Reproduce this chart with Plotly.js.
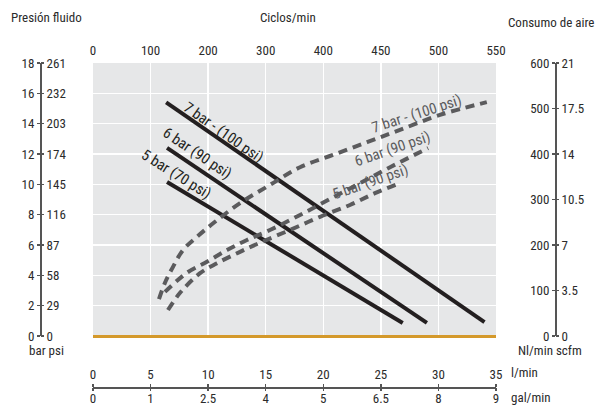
<!DOCTYPE html>
<html>
<head>
<meta charset="utf-8">
<script src="https://cdn.plot.ly/plotly-3.0.1.min.js"></script>
<style>html,body{margin:0;padding:0;background:#fff;}#chart{width:596px;height:405px;}</style>
</head>
<body>
<div id="chart"></div>
<script>
// ---- data ----
// Solid lines: flow (l/min) vs fluid pressure (bar)
const solid7X = [6.35, 34.0];
const solid7Y = [15.4, 0.92];
const solid6X = [6.43, 29.0];
const solid6Y = [12.4, 0.86];
const solid5X = [6.43, 26.9];
const solid5Y = [10.15, 0.86];
// Dashed curves: air consumption (Nl/min)
const dash7X = [5.73, 6.25, 6.95, 7.82, 9.03, 10.6, 12.77, 15.37, 17.98, 20.84, 23.8, 26.66, 30.14, 34.2];
const dash7Y = [81, 117, 152, 189, 218, 251, 292, 332, 371, 398, 426, 453, 486, 514];
const dash6X = [6.25, 8.16, 9.9, 11.64, 13.37, 15.37, 17.98, 20.58, 23.19, 25.8, 29.1];
const dash6Y = [97, 139, 163, 189, 211, 233, 266, 301, 336, 371, 413];
const dash5X = [6.51, 7.56, 9.3, 10.77, 12.77, 14.68, 17.11, 19.72, 22.32, 24.49, 26.66];
const dash5Y = [57, 95, 138, 160, 185, 207, 233, 262, 288, 314, 336];

// tick labels
const flowTicks = [0, 5, 10, 15, 20, 25, 30, 35];
const cycleLabels = ["0", "100", "200", "300", "400", "450", "500", "550"];
const galLabels = ["0", "1", "2.5", "4", "5", "6.5", "8", "9"];
const barTicks = [0, 2, 4, 6, 8, 10, 12, 14, 16, 18];
const psiTicks = [0, 29, 58, 87, 116, 145, 174, 203, 232, 261];
const nlTicks = [0, 100, 200, 300, 400, 500, 600];
const scfmTicks = [0, 3.5, 7, 10.5, 14, 17.5, 21];
const scfmLabels = ["0", "3.5", "7", "10.5", "14", "17.5", "21"];

// ---- layout helpers ----
const W = 596, H = 405, ML = 10, MR = 10, MT = 10, MB = 10;
const PW = W - ML - MR, PH = H - MT - MB;
const px = x => (x - ML) / PW;
const py = y => (H - MB - y) / PH;
const FONT = "Liberation Sans Narrow, Roboto Condensed, Arial Narrow, Liberation Sans, sans-serif";
const TXT = "#2b2b2b";

const solidStyle = {color: "#231f20", width: 4};
const dashStyle = {color: "#5b5b5d", width: 4, dash: "9px,6px"};

const traces = [
  {x: solid7X, y: solid7Y, mode: "lines", line: solidStyle, xaxis: "x", yaxis: "y", hoverinfo: "skip"},
  {x: solid6X, y: solid6Y, mode: "lines", line: solidStyle, xaxis: "x", yaxis: "y", hoverinfo: "skip"},
  {x: solid5X, y: solid5Y, mode: "lines", line: solidStyle, xaxis: "x", yaxis: "y", hoverinfo: "skip"},
  {x: dash7X, y: dash7Y, mode: "lines", line: Object.assign({shape: "spline"}, dashStyle), xaxis: "x", yaxis: "y2", hoverinfo: "skip"},
  {x: dash6X, y: dash6Y, mode: "lines", line: Object.assign({shape: "spline"}, dashStyle), xaxis: "x", yaxis: "y2", hoverinfo: "skip"},
  {x: dash5X, y: dash5Y, mode: "lines", line: Object.assign({shape: "spline"}, dashStyle), xaxis: "x", yaxis: "y2", hoverinfo: "skip"},
  // empty traces so that the secondary scales are drawn
  {x: [null], y: [null], mode: "lines", xaxis: "x2", yaxis: "y3", hoverinfo: "skip"},
  {x: [null], y: [null], mode: "lines", xaxis: "x3", yaxis: "y4", hoverinfo: "skip"}
];

const domX = [px(93), px(496)];
const domY = [py(336), py(63)];
const tickFont = {family: FONT, size: 13, color: TXT};

const layout = {
  width: W, height: H,
  margin: {l: ML, r: MR, t: MT, b: MB},
  paper_bgcolor: "#ffffff",
  plot_bgcolor: "#e6e7e8",
  showlegend: false,
  font: {family: FONT, size: 13, color: TXT},
  xaxis: {
    domain: domX, range: [0, 35], anchor: "free", position: py(387), side: "top",
    tickvals: flowTicks, ticks: "outside", ticklen: 3, tickcolor: "#555", tickwidth: 1.3,
    showline: true, linecolor: "#555", linewidth: 1.5,
    showgrid: true, gridcolor: "#ffffff", gridwidth: 1.5, zeroline: false,
    tickfont: tickFont, fixedrange: true
  },
  xaxis2: {
    overlaying: "x", range: [0, 35], anchor: "y", side: "top",
    tickvals: flowTicks, ticktext: cycleLabels, ticks: "", showline: false,
    showgrid: false, zeroline: false, tickfont: tickFont, ticklabelstandoff: 4
  },
  xaxis3: {
    overlaying: "x", range: [0, 35], anchor: "free", position: py(387), side: "bottom",
    tickvals: flowTicks, ticktext: galLabels, ticks: "outside", ticklen: 3, tickcolor: "#555", tickwidth: 1.3,
    showline: false, showgrid: false, zeroline: false, tickfont: tickFont, ticklabelstandoff: -4
  },
  yaxis: {
    domain: domY, range: [0, 18], anchor: "free", position: px(40), side: "left",
    tickvals: barTicks, ticks: "outside", ticklen: 3, tickcolor: "#555", tickwidth: 1.3,
    showline: true, linecolor: "#555", linewidth: 1.5,
    showgrid: true, gridcolor: "#ffffff", gridwidth: 1.5,
    zeroline: true, zerolinecolor: "#d4992b", zerolinewidth: 3,
    tickfont: tickFont
  },
  yaxis3: {
    overlaying: "y", range: [0, 261], anchor: "free", position: px(40), side: "right",
    tickvals: psiTicks, ticks: "outside", ticklen: 3, tickcolor: "#555", tickwidth: 1.3,
    showline: false, showgrid: false, zeroline: false, tickfont: tickFont
  },
  yaxis2: {
    overlaying: "y", range: [0, 600], anchor: "free", position: px(555), side: "left",
    tickvals: nlTicks, ticks: "outside", ticklen: 3, tickcolor: "#555", tickwidth: 1.3,
    showline: true, linecolor: "#555", linewidth: 1.5,
    showgrid: false, zeroline: false, tickfont: tickFont
  },
  yaxis4: {
    overlaying: "y", range: [0, 21], anchor: "free", position: px(555), side: "right",
    tickvals: scfmTicks, ticktext: scfmLabels, ticks: "outside", ticklen: 3, tickcolor: "#555", tickwidth: 1.3,
    showline: false, showgrid: false, zeroline: false, tickfont: tickFont
  },
  annotations: [
    {text: "Presión fluido", xref: "paper", yref: "paper", x: px(9), y: py(17), xanchor: "left", yanchor: "middle", showarrow: false, font: {family: FONT, size: 13, color: TXT}},
    {text: "Ciclos/min", xref: "paper", yref: "paper", x: px(288), y: py(17), xanchor: "center", yanchor: "middle", showarrow: false, font: {family: FONT, size: 13, color: TXT}},
    {text: "Consumo de aire", xref: "paper", yref: "paper", x: px(506), y: py(22), xanchor: "left", yanchor: "middle", showarrow: false, font: {family: FONT, size: 13, color: TXT}},
    {text: "bar psi", xref: "paper", yref: "paper", x: px(27), y: py(350), xanchor: "left", yanchor: "middle", showarrow: false, font: {family: FONT, size: 13, color: TXT}},
    {text: "Nl/min scfm", xref: "paper", yref: "paper", x: px(516), y: py(350), xanchor: "left", yanchor: "middle", showarrow: false, font: {family: FONT, size: 13, color: TXT}},
    {text: "l/min", xref: "paper", yref: "paper", x: px(509), y: py(372), xanchor: "left", yanchor: "middle", showarrow: false, font: {family: FONT, size: 13, color: TXT}},
    {text: "gal/min", xref: "paper", yref: "paper", x: px(509), y: py(398), xanchor: "left", yanchor: "middle", showarrow: false, font: {family: FONT, size: 13, color: TXT}},
    // solid line labels
    {text: "7 bar - (100 psi)", xref: "paper", yref: "paper", x: px(223), y: py(132), xanchor: "center", yanchor: "middle", showarrow: false, textangle: 35, font: {family: FONT, size: 15, color: "#231f20"}},
    {text: "6 bar (90 psi)", xref: "paper", yref: "paper", x: px(197), y: py(153), xanchor: "center", yanchor: "middle", showarrow: false, textangle: 34, font: {family: FONT, size: 15, color: "#231f20"}},
    {text: "5 bar (70 psi)", xref: "paper", yref: "paper", x: px(176), y: py(174), xanchor: "center", yanchor: "middle", showarrow: false, textangle: 32, font: {family: FONT, size: 15, color: "#231f20"}},
    // dashed line labels
    {text: "7 bar - (100 psi)", xref: "paper", yref: "paper", x: px(416), y: py(114), xanchor: "center", yanchor: "middle", showarrow: false, textangle: -18, font: {family: FONT, size: 15, color: "#5b5b5d"}},
    {text: "6 bar (90 psi)", xref: "paper", yref: "paper", x: px(392), y: py(149), xanchor: "center", yanchor: "middle", showarrow: false, textangle: -19, font: {family: FONT, size: 15, color: "#5b5b5d"}},
    {text: "5 bar (90 psi)", xref: "paper", yref: "paper", x: px(370), y: py(182), xanchor: "center", yanchor: "middle", showarrow: false, textangle: -19, font: {family: FONT, size: 15, color: "#5b5b5d"}}
  ]
};

Plotly.newPlot("chart", traces, layout, {displayModeBar: false, staticPlot: true});
</script>
</body>
</html>
